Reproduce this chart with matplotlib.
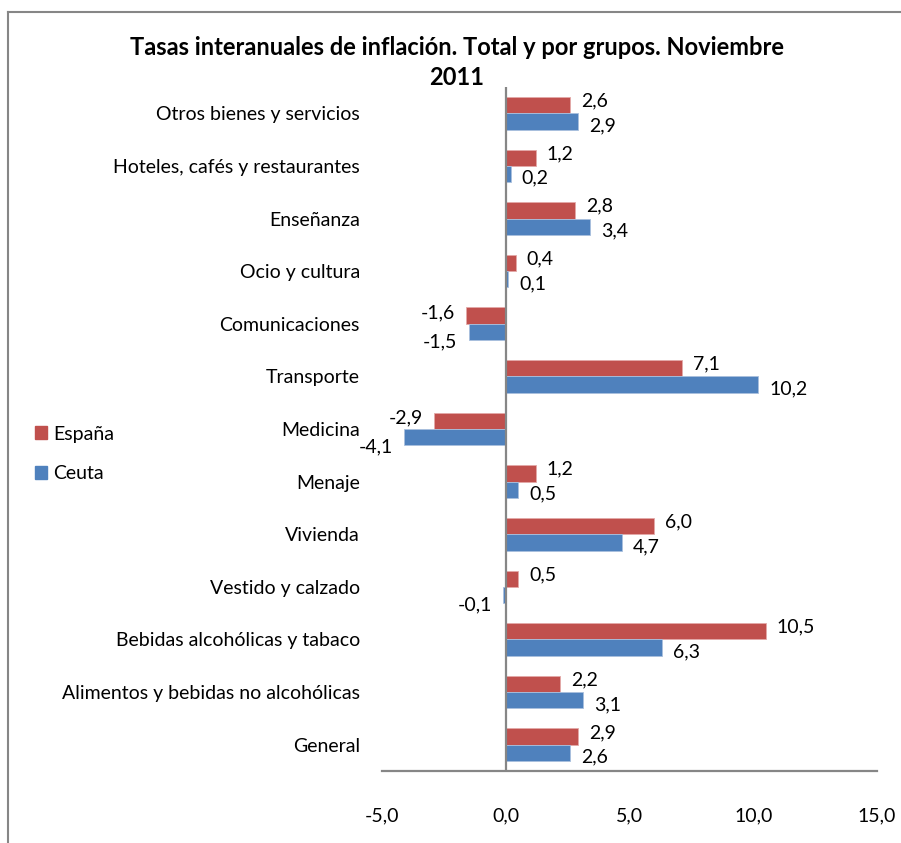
import matplotlib
matplotlib.use("Agg")
import matplotlib.pyplot as plt
import numpy as np
from matplotlib.patches import Rectangle
from matplotlib.lines import Line2D

categories = ["General", "Alimentos y bebidas no alcohólicas", "Bebidas alcohólicas y tabaco",
              "Vestido y calzado", "Vivienda", "Menaje", "Medicina", "Transporte",
              "Comunicaciones", "Ocio y cultura", "Enseñanza", "Hoteles, cafés y restaurantes",
              "Otros bienes y servicios"]
espana = [2.9, 2.2, 10.5, 0.5, 6.0, 1.2, -2.9, 7.1, -1.6, 0.4, 2.8, 1.2, 2.6]
ceuta = [2.6, 3.1, 6.3, -0.1, 4.7, 0.5, -4.1, 10.2, -1.5, 0.1, 3.4, 0.2, 2.9]
xticks = [-5, 0, 5, 10, 15]
series_names = ["España", "Ceuta"]
colors = ["#C0504D", "#4F81BD"]
title_lines = ["Tasas interanuales de inflación. Total y por grupos. Noviembre", "2011"]

plt.rcParams['font.family'] = ['Lato', 'DejaVu Sans']
FS = 14

fig = plt.figure(figsize=(9.01, 8.43), dpi=100)
ax = fig.add_axes([0.424, 0.0854, 0.5495, 0.8114])

y = np.arange(len(categories))
h = 0.31
ax.barh(y + h / 2, espana, height=h, color=colors[0], edgecolor="#E3A9A8", linewidth=0.6, label=series_names[0])
ax.barh(y - h / 2, ceuta, height=h, color=colors[1], edgecolor="#A9C0DE", linewidth=0.6, label=series_names[1])

def fmt(v):
    return f"{v:.1f}".replace(".", ",")

for i, (e, c) in enumerate(zip(espana, ceuta)):
    for v, yy, is_es in ((e, y[i] + h / 2, True), (c, y[i] - h / 2, False)):
        if v >= 0:
            off, dy, ha = 8, (3 if is_es else -3), "left"
        else:
            off, dy, ha = -8, (2 if is_es else -7), "right"
        ax.annotate(fmt(v), (v, yy), xytext=(off, dy), textcoords="offset points",
                    ha=ha, va="center", fontsize=FS)

ax.set_xlim(-5, 15)
ax.set_ylim(-0.5, len(categories) - 0.5)
ax.set_xticks(xticks)
ax.set_xticklabels([fmt(t) for t in xticks], fontsize=FS)
ax.set_yticks(y)
ax.set_yticklabels(categories, fontsize=FS)
ax.tick_params(axis="x", length=0, pad=26)
ax.tick_params(axis="y", length=0, pad=16)
for s in ("top", "right", "left"):
    ax.spines[s].set_visible(False)
ax.spines["bottom"].set_color("#868686")
ax.spines["bottom"].set_linewidth(1.6)
ax.axvline(0, color="#868686", linewidth=1.6, zorder=3)

fig.text(0.507, 0.944, title_lines[0], ha="center", va="center", fontsize=17, fontweight="bold")
fig.text(0.507, 0.908, title_lines[1], ha="center", va="center", fontsize=17, fontweight="bold")

handles = [Rectangle((0, 0), 1, 1, color=colors[0]), Rectangle((0, 0), 1, 1, color=colors[1])]
fig.legend(handles, series_names, loc="upper left", bbox_to_anchor=(0.019, 0.516),
           frameon=False, fontsize=FS, handlelength=0.65, handleheight=0.65,
           handletextpad=0.3, labelspacing=1.15)

# chart border
fig.add_artist(Line2D([0.009, 0.009], [0, 0.986], color="#868686", linewidth=1.5, transform=fig.transFigure))
fig.add_artist(Line2D([0.009, 1.0], [0.986, 0.986], color="#868686", linewidth=1.5, transform=fig.transFigure))

fig.savefig("out.png", dpi=100)
